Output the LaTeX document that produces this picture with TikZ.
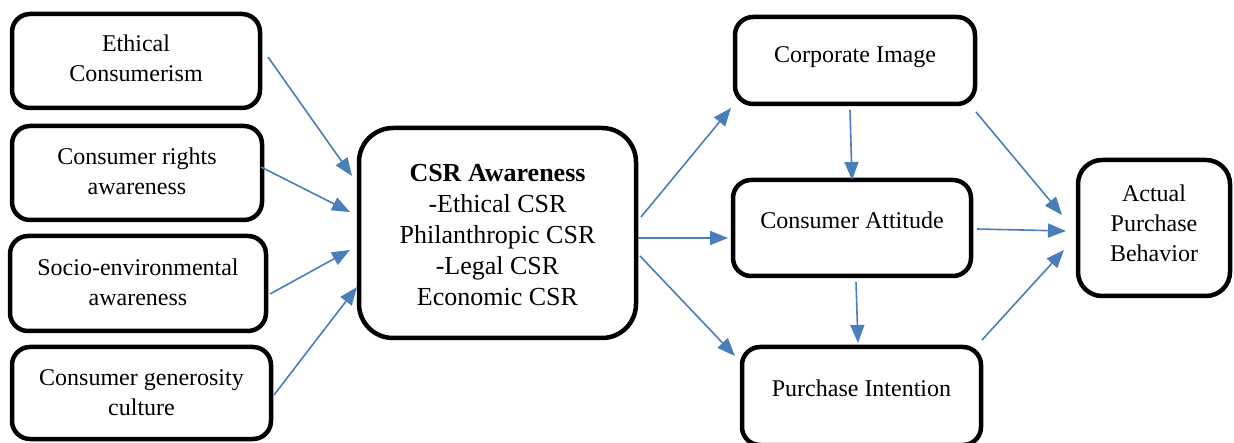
\documentclass[tikz,border=0pt]{standalone}
\usepackage{fontspec}
\setmainfont{Liberation Serif}
\usetikzlibrary{arrows.meta,calc}
\definecolor{arrblue}{HTML}{4A7EBB}
\tikzset{
  box/.style={draw=black,line width=4.5pt,rounded corners=18pt,align=center,inner sep=0pt,
    font=\fontsize{24}{30}\selectfont},
  txt/.style={align=center,inner sep=0pt,font=\fontsize{24}{30}\selectfont},
  bigtxt/.style={align=center,inner sep=0pt,font=\fontsize{26}{31}\selectfont},
  link/.style={draw=arrblue,line width=1.6pt,-{Triangle[length=18pt,width=14pt]}}
}
\begin{document}
\begin{tikzpicture}[x=1pt,y=-1pt]
\useasboundingbox (0,0) rectangle (1234,443);
% left boxes
\node[box,minimum width=248pt,minimum height=94pt,
  label={[txt,yshift=3pt]center:Ethical\\Consumerism}] (eth) at (136,61) {};
\node[box,minimum width=250pt,minimum height=94pt,
  label={[txt,yshift=1.5pt]center:Consumer rights\\awareness}] (rig) at (137,173) {};
\node[box,minimum width=256pt,minimum height=95pt,
  label={[txt,yshift=1.5pt]center:Socio-environmental\\awareness}] (soc) at (138,283.5) {};
\node[box,minimum width=259pt,minimum height=92pt,
  label={[txt]center:Consumer generosity\\culture}] (gen) at (141.5,393) {};
% central box
\node[box,rounded corners=34pt,minimum width=277pt,minimum height=210pt,
  label={[bigtxt,yshift=-2pt]center:\textbf{CSR Awareness}\\-Ethical CSR\\Philanthropic CSR\\-Legal CSR\\Economic CSR}] (csr) at (497.5,233) {};
% right boxes
\node[box,minimum width=240pt,minimum height=87pt] (ci) at (855,60.5) {\raisebox{12pt}{Corporate Image}};
\node[box,minimum width=238pt,minimum height=96pt] (ca) at (852,228) {\raisebox{16pt}{Consumer Attitude}};
\node[box,minimum width=239pt,minimum height=98pt] (pi) at (861.5,396) {\raisebox{16pt}{Purchase Intention}};
\node[box,rounded corners=24pt,minimum width=152pt,minimum height=136pt,
  label={[txt,yshift=4.5pt]center:Actual\\Purchase\\Behavior}] (apb) at (1154,228) {};
% arrows into CSR
\draw[link] ($(eth.center)+(132,-4)$) -- ($(csr.center)+(-145.5,-57)$);
\draw[link] ($(rig.center)+(124,-6)$) -- ($(csr.center)+(-147.5,-21)$);
\draw[link] ($(soc.center)+(132,10.5)$) -- ($(csr.center)+(-147.5,17)$);
\draw[link] ($(gen.center)+(132.5,2)$) -- ($(csr.center)+(-140.5,54)$);
% arrows from CSR
\draw[link] ($(csr.center)+(143.5,-16)$) -- ($(ci.center)+(-124,47.5)$);
\draw[link] ($(csr.center)+(140.5,5)$) -- ($(ca.center)+(-124,10)$);
\draw[link] ($(csr.center)+(142.5,23)$) -- ($(pi.center)+(-126.5,-40)$);
% vertical arrows
\draw[link] ($(ci.center)+(-5,49.5)$) -- ($(ca.center)+(0,-48)$);
\draw[link] ($(ca.center)+(4,54)$) -- ($(pi.center)+(-3.5,-53)$);
% arrows to APB
\draw[link] ($(ci.center)+(121,51.5)$) -- ($(apb.center)+(-92,-13)$);
\draw[link] ($(ca.center)+(125,1)$) -- ($(apb.center)+(-88,3)$);
\draw[link] ($(pi.center)+(120.5,-56)$) -- ($(apb.center)+(-90,22)$);
\end{tikzpicture}
\end{document}
